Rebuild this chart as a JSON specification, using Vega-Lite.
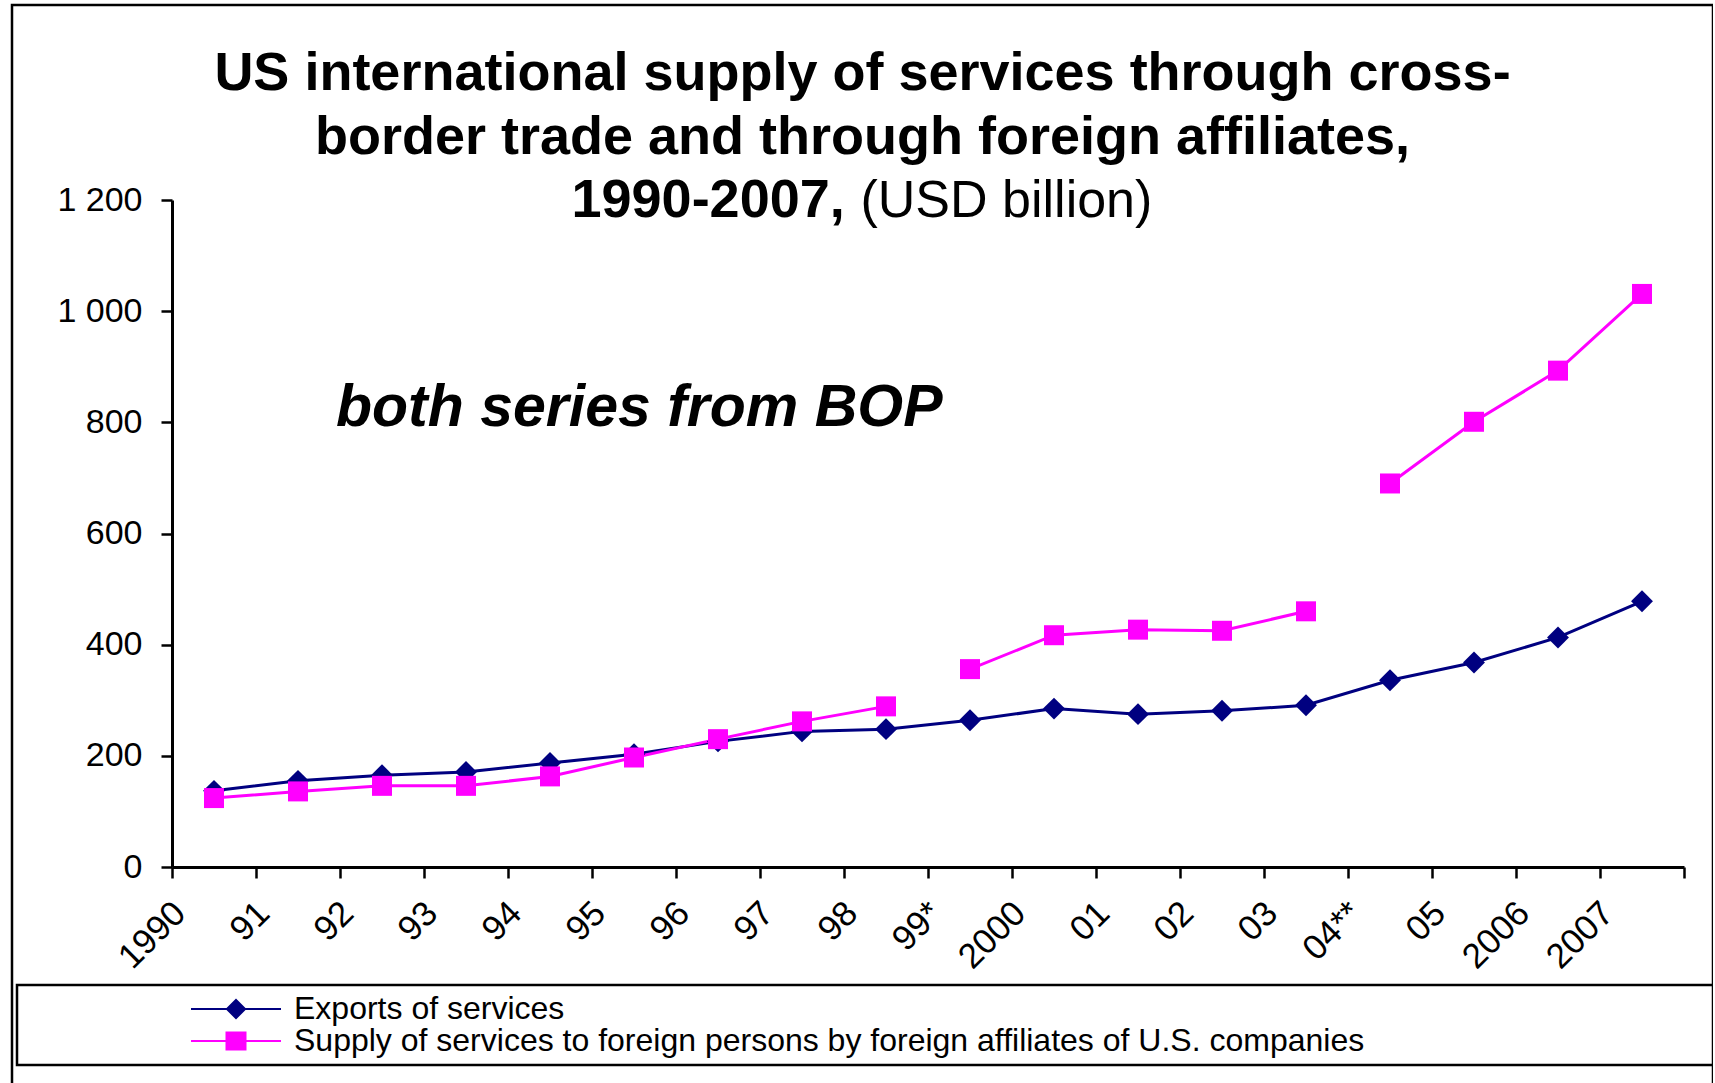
{
  "$schema": "https://vega.github.io/schema/vega-lite/v6.json",
  "width": 1701,
  "height": 1090,
  "autosize": {"type": "none"},
  "padding": {"left": 12, "top": 5, "right": 0, "bottom": 0},
  "background": "white",
  "config": {"view": {"stroke": "black", "strokeWidth": 2.5}, "legend": {"strokeWidth": 2.5}},
  "title": {
    "text": [
      "US international supply of services through cross-",
      "border trade and through foreign affiliates,"
    ],
    "anchor": "middle",
    "frame": "group",
    "font": "Liberation Sans",
    "fontSize": 54,
    "fontWeight": "bold",
    "color": "black",
    "lineHeight": 64,
    "baseline": "top",
    "offset": -160
  },
  "data": {
    "values": [
      {"year": "1990", "series": "Exports of services", "seg": "E", "value": 137},
      {"year": "91", "series": "Exports of services", "seg": "E", "value": 155},
      {"year": "92", "series": "Exports of services", "seg": "E", "value": 165},
      {"year": "93", "series": "Exports of services", "seg": "E", "value": 171},
      {"year": "94", "series": "Exports of services", "seg": "E", "value": 187},
      {"year": "95", "series": "Exports of services", "seg": "E", "value": 203},
      {"year": "96", "series": "Exports of services", "seg": "E", "value": 226},
      {"year": "97", "series": "Exports of services", "seg": "E", "value": 244},
      {"year": "98", "series": "Exports of services", "seg": "E", "value": 248},
      {"year": "99*", "series": "Exports of services", "seg": "E", "value": 264},
      {"year": "2000", "series": "Exports of services", "seg": "E", "value": 285},
      {"year": "01", "series": "Exports of services", "seg": "E", "value": 275},
      {"year": "02", "series": "Exports of services", "seg": "E", "value": 281},
      {"year": "03", "series": "Exports of services", "seg": "E", "value": 291},
      {"year": "04**", "series": "Exports of services", "seg": "E", "value": 336},
      {"year": "05", "series": "Exports of services", "seg": "E", "value": 368},
      {"year": "2006", "series": "Exports of services", "seg": "E", "value": 413},
      {"year": "2007", "series": "Exports of services", "seg": "E", "value": 478},
      {"year": "1990", "series": "Supply of services to foreign persons by foreign affiliates of U.S. companies", "seg": "S1", "value": 124},
      {"year": "91", "series": "Supply of services to foreign persons by foreign affiliates of U.S. companies", "seg": "S1", "value": 136},
      {"year": "92", "series": "Supply of services to foreign persons by foreign affiliates of U.S. companies", "seg": "S1", "value": 146},
      {"year": "93", "series": "Supply of services to foreign persons by foreign affiliates of U.S. companies", "seg": "S1", "value": 146},
      {"year": "94", "series": "Supply of services to foreign persons by foreign affiliates of U.S. companies", "seg": "S1", "value": 163},
      {"year": "95", "series": "Supply of services to foreign persons by foreign affiliates of U.S. companies", "seg": "S1", "value": 197},
      {"year": "96", "series": "Supply of services to foreign persons by foreign affiliates of U.S. companies", "seg": "S1", "value": 230},
      {"year": "97", "series": "Supply of services to foreign persons by foreign affiliates of U.S. companies", "seg": "S1", "value": 262},
      {"year": "98", "series": "Supply of services to foreign persons by foreign affiliates of U.S. companies", "seg": "S1", "value": 289},
      {"year": "99*", "series": "Supply of services to foreign persons by foreign affiliates of U.S. companies", "seg": "S2", "value": 356},
      {"year": "2000", "series": "Supply of services to foreign persons by foreign affiliates of U.S. companies", "seg": "S2", "value": 417},
      {"year": "01", "series": "Supply of services to foreign persons by foreign affiliates of U.S. companies", "seg": "S2", "value": 427},
      {"year": "02", "series": "Supply of services to foreign persons by foreign affiliates of U.S. companies", "seg": "S2", "value": 425},
      {"year": "03", "series": "Supply of services to foreign persons by foreign affiliates of U.S. companies", "seg": "S2", "value": 460},
      {"year": "04**", "series": "Supply of services to foreign persons by foreign affiliates of U.S. companies", "seg": "S3", "value": 690},
      {"year": "05", "series": "Supply of services to foreign persons by foreign affiliates of U.S. companies", "seg": "S3", "value": 801},
      {"year": "2006", "series": "Supply of services to foreign persons by foreign affiliates of U.S. companies", "seg": "S3", "value": 893},
      {"year": "2007", "series": "Supply of services to foreign persons by foreign affiliates of U.S. companies", "seg": "S3", "value": 1031}
    ]
  },
  "encoding": {
    "x": {
      "field": "year",
      "type": "ordinal",
      "bandPosition": 0.5,
      "scale": {
        "type": "band",
        "domain": ["1990", "91", "92", "93", "94", "95", "96", "97", "98", "99*", "2000", "01", "02", "03", "04**", "05", "2006", "2007"],
        "range": [160, 1672],
        "paddingInner": 0,
        "paddingOuter": 0
      },
      "axis": {
        "orient": "bottom",
        "offset": -228,
        "title": "1990-2007,",
        "titleAngle": 0,
        "titleX": 559,
        "titleY": -651,
        "titleAlign": "left",
        "titleBaseline": "alphabetic",
        "titleFont": "Liberation Sans",
        "titleFontSize": 54,
        "titleFontWeight": "bold",
        "titleColor": "black",
        "tickBand": "extent",
        "labelAngle": -45,
        "labelAlign": "right",
        "labelBaseline": "alphabetic",
        "labelOffset": -27,
        "labelPadding": 37,
        "labelFont": "Liberation Sans",
        "labelFontSize": 35,
        "labelColor": "black",
        "labelOverlap": false,
        "labelBound": false,
        "labelFlush": false,
        "domainColor": "black",
        "domainWidth": 3,
        "tickColor": "black",
        "tickWidth": 2.5,
        "tickSize": 11,
        "grid": false
      }
    },
    "y": {
      "field": "value",
      "type": "quantitative",
      "scale": {"domain": [0, 1200], "range": [862, 195], "nice": false, "zero": true},
      "axis": {
        "orient": "left",
        "offset": -160,
        "values": [0, 200, 400, 600, 800, 1000, 1200],
        "labelExpr": "replace(format(datum.value, ','), ',', ' ')",
        "labelFont": "Liberation Sans",
        "labelFontSize": 34,
        "labelColor": "black",
        "labelPadding": 19,
        "tickSize": 11,
        "tickWidth": 2.5,
        "tickColor": "black",
        "domainColor": "black",
        "domainWidth": 3,
        "grid": false,
        "title": "(USD billion)",
        "titleAngle": 0,
        "titleX": 688,
        "titleY": 211,
        "titleAlign": "left",
        "titleBaseline": "alphabetic",
        "titleFont": "Liberation Sans",
        "titleFontSize": 52,
        "titleFontWeight": "normal",
        "titleColor": "black"
      }
    },
    "color": {
      "field": "series",
      "type": "nominal",
      "scale": {
        "domain": ["Exports of services", "Supply of services to foreign persons by foreign affiliates of U.S. companies"],
        "range": ["#000080", "#ff00ff"]
      }
    }
  },
  "layer": [
    {
      "mark": {"type": "line", "strokeWidth": 3},
      "encoding": {
        "detail": {"field": "seg", "type": "nominal"}
      }
    },
    {
      "transform": [{"filter": "datum.series === 'Exports of services'"}],
      "mark": {"type": "point", "shape": "diamond", "size": 480, "filled": true, "opacity": 1}
    },
    {
      "transform": [{"filter": "datum.series !== 'Exports of services'"}],
      "mark": {"type": "point", "shape": "square", "size": 400, "filled": true, "opacity": 1}
    },
    {
      "mark": {"type": "point", "filled": true, "opacity": 0, "size": 100},
      "encoding": {
        "color": {
          "field": "series",
          "type": "nominal",
          "legend": {
            "orient": "none",
            "legendX": 5,
            "legendY": 980,
            "direction": "vertical",
            "title": "___________________",
            "titleOrient": "right",
            "titleFont": "Liberation Sans",
            "titleFontSize": 32,
            "titleColor": "white",
            "titleLimit": 1000,
            "titlePadding": 2,
            "labelFont": "Liberation Sans",
            "labelFontSize": 32,
            "labelColor": "black",
            "labelLimit": 3000,
            "labelOffset": 42,
            "symbolOffset": 195,
            "symbolSize": 100,
            "symbolOpacity": 1,
            "symbolStrokeWidth": 0,
            "padding": 8,
            "rowPadding": -2,
            "strokeColor": "black",
            "fillColor": "white"
          }
        },
        "shape": {
          "field": "series",
          "type": "nominal",
          "scale": {
            "domain": ["Exports of services", "Supply of services to foreign persons by foreign affiliates of U.S. companies"],
            "range": [
              "M-9,-0.22H9V0.22H-9Z M0,-2.1L2.1,0L0,2.1L-2.1,0Z",
              "M-9,-0.22H9V0.22H-9Z M-2.1,-1.9H2.1V1.9H-2.1Z"
            ]
          }
        }
      }
    },
    {
      "data": {"values": [{"year": "92", "value": 793, "note": "both series from BOP"}]},
      "mark": {
        "type": "text",
        "align": "left",
        "baseline": "alphabetic",
        "dx": -4,
        "font": "Liberation Sans",
        "fontSize": 59,
        "fontWeight": "bold",
        "fontStyle": "italic",
        "color": "black"
      },
      "encoding": {
        "x": {"field": "year", "type": "ordinal", "bandPosition": 0},
        "y": {"field": "value", "type": "quantitative"},
        "text": {"field": "note"},
        "color": {"value": "black"}
      }
    }
  ]
}
